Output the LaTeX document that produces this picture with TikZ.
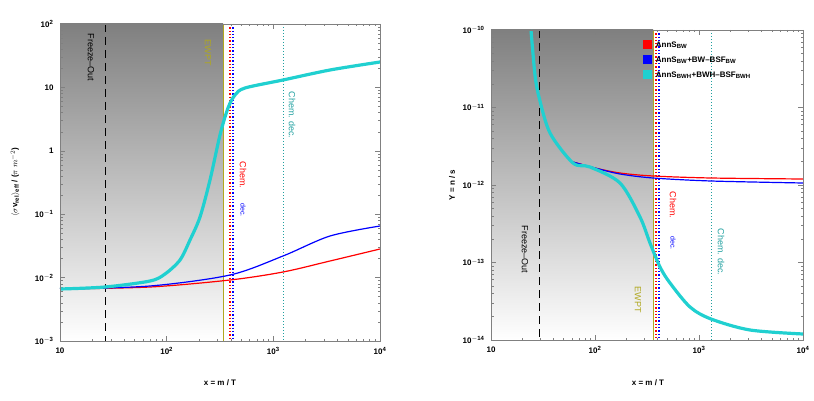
\documentclass[tikz,border=0pt]{standalone}
\usepackage{fontspec}
\setmainfont{Liberation Sans}
\usetikzlibrary{positioning}
\definecolor{shade}{HTML}{F5F4E2}
\definecolor{ewpt}{HTML}{B0A820}
\definecolor{cya}{HTML}{20D0D0}
\definecolor{tealdot}{HTML}{20A0A0}
\definecolor{frm}{HTML}{808080}
\tikzset{
  curve/.style={line width=1.2pt},
  bigcurve/.style={line width=3.2pt,color=cya},
  ticklab/.style={font=\bfseries\footnotesize},
  axlab/.style={font=\bfseries\footnotesize},
  vlab/.style={rotate=-90,font=\small},
  legbox/.style={minimum size=9pt,inner sep=0pt},
}
\begin{document}
\begin{tikzpicture}[x=1pt,y=-1pt]
\useasboundingbox (0,0) rectangle (814,401);
% Drawing left panel
\fill[shade] (60,24) rectangle (223,341);
\draw[ewpt,line width=1pt] (223,24) -- (223,341);
\draw[black,dashed,dash pattern=on 8pt off 5pt,line width=1pt] (105,24) -- (105,341);
\draw[red,dotted,line width=1.3pt] (230,24) -- (230,341);
\draw[blue,dotted,line width=1.3pt] (233,24) -- (233,341);
\draw[tealdot,dotted,line width=1pt] (283,24) -- (283,341);
% ticks
\foreach \d in {0,1,2,3} {
  \draw[frm] (60+\d*106.67,341) -- ++(0,-5);
  \draw[frm] (60+\d*106.67,24) -- ++(0,5);
}
\foreach \d in {0,1,2} \foreach \k in {2,...,9} {
  \pgfmathsetmacro\xx{60+(\d+log10(\k))*106.67}
  \draw[frm] (\xx,341) -- ++(0,-2.5);
  \draw[frm] (\xx,24) -- ++(0,2.5);
}
\foreach \d in {0,...,5} {
  \draw[frm] (60,24+\d*63.4) -- ++(5,0);
  \draw[frm] (380,24+\d*63.4) -- ++(-5,0);
}
\foreach \d in {0,...,4} \foreach \k in {2,...,9} {
  \pgfmathsetmacro\yy{24+(\d+1-log10(\k))*63.4}
  \draw[frm] (60,\yy) -- ++(2.5,0);
  \draw[frm] (380,\yy) -- ++(-2.5,0);
}
% curves
\draw[curve,red] plot[smooth] coordinates {(60,289) (150,287) (230,280) (283,272) (330,261) (380,249)};
\draw[curve,blue] plot[smooth] coordinates {(60,289) (150,286) (230,275) (283,256) (330,236) (380,226)};
\draw[bigcurve] plot[smooth] coordinates {(60,289) (105,287) (150,281) (165,274) (180,260) (190,240) (200,217) (210,180) (220,135) (228,108) (235,95) (245,88) (283,80) (330,70) (380,62)};
\draw[frm] (60,24) rectangle (380,341);
% labels
\node[vlab,anchor=west] (fo1) at (91,30) {Freeze–Out};
\node[vlab,anchor=west,ewpt] (ew1) at (208,36) {EWPT};
\node[vlab,anchor=west,red] (ch1) at (243,158) {Chem.};
\node[vlab,anchor=west,blue,font=\scriptsize] (dc1) at (243,200) {dec.};
\node[vlab,anchor=west,tealdot] (ch2) at (292,88) {Chem. dec.};
\node[ticklab,anchor=east] at (57,24) {10$^{\mathbf{2}}$};
\node[ticklab,anchor=east] at (57,87.4) {10};
\node[ticklab,anchor=east] at (57,150.8) {1};
\node[ticklab,anchor=east] at (57,214.2) {10$^{\mathbf{-1}}$};
\node[ticklab,anchor=east] at (57,277.6) {10$^{\mathbf{-2}}$};
\node[ticklab,anchor=east] at (57,341) {10$^{\mathbf{-3}}$};
\node[ticklab,anchor=north] at (60,344) {10};
\node[ticklab,anchor=north] at (166.7,344) {10$^{\mathbf{2}}$};
\node[ticklab,anchor=north] at (273.3,344) {10$^{\mathbf{3}}$};
\node[ticklab,anchor=north] at (380,344) {10$^{\mathbf{4}}$};
\node[axlab] (xl1) at (220,383) {x = m / T};
\node[axlab,rotate=90] (yl1) at (15,182) {$\langle\sigma$v\textsubscript{rel}$\rangle$\textsubscript{eff} / ($\pi$ $m^{-2}$)};
% Drawing right panel
\fill[shade] (491,30) rectangle (653,340);
\draw[ewpt,line width=1pt] (653,30) -- (653,340);
\draw[black,dashed,dash pattern=on 8pt off 5pt,line width=1pt] (539,30) -- (539,340);
\draw[red,dotted,line width=1.3pt] (656,30) -- (656,340);
\draw[blue,dotted,line width=1.3pt] (659,30) -- (659,340);
\draw[tealdot,dotted,line width=1pt] (711,30) -- (711,340);
\foreach \d in {0,1,2,3} {
  \draw[frm] (491+\d*104,340) -- ++(0,-5);
  \draw[frm] (491+\d*104,30) -- ++(0,5);
}
\foreach \d in {0,1,2} \foreach \k in {2,...,9} {
  \pgfmathsetmacro\xx{491+(\d+log10(\k))*104}
  \draw[frm] (\xx,340) -- ++(0,-2.5);
  \draw[frm] (\xx,30) -- ++(0,2.5);
}
\foreach \d in {0,...,4} {
  \draw[frm] (491,30+\d*77.5) -- ++(5,0);
  \draw[frm] (803,30+\d*77.5) -- ++(-5,0);
}
\foreach \d in {0,...,3} \foreach \k in {2,...,9} {
  \pgfmathsetmacro\yy{30+(\d+1-log10(\k))*77.5}
  \draw[frm] (491,\yy) -- ++(2.5,0);
  \draw[frm] (803,\yy) -- ++(-2.5,0);
}
\draw[curve,red] plot[smooth] coordinates {(573,162) (595,168) (620,173) (653,176) (711,178) (803,179)};
\draw[curve,blue] plot[smooth] coordinates {(573,162) (595,168) (620,174) (653,178) (711,181) (803,183)};
\draw[bigcurve] plot[smooth] coordinates {(531,30) (535,75) (539,97) (550,133) (573,163) (590,167) (620,183) (640,217) (650,243) (660,267) (670,283) (690,307) (711,319) (750,330) (803,334)};
\draw[frm] (491,30) rectangle (803,340);
\node[vlab,anchor=west] (fo2) at (525,222) {Freeze–Out};
\node[vlab,anchor=west,ewpt] (ew2) at (638,283) {EWPT};
\node[vlab,anchor=west,red] (ch3) at (673,188) {Chem.};
\node[vlab,anchor=west,blue,font=\scriptsize] (dc2) at (673,233) {dec.};
\node[vlab,anchor=west,tealdot] (ch4) at (721,225) {Chem. dec.};
\foreach \d/\e in {0/-10,1/-11,2/-12,3/-13,4/-14}
  \node[ticklab,anchor=east] at (488,30+\d*77.5) {10$^{\mathbf{\e}}$};
\node[ticklab,anchor=north] at (491,343) {10};
\node[ticklab,anchor=north] at (595,343) {10$^{\mathbf{2}}$};
\node[ticklab,anchor=north] at (699,343) {10$^{\mathbf{3}}$};
\node[ticklab,anchor=north] at (803,343) {10$^{\mathbf{4}}$};
\node[axlab] (xl2) at (648,383) {x = m / T};
\node[axlab,rotate=90] (yl2) at (452,185) {Y = n / s};
% legend
\node[legbox,fill=red] (lr) at (647,45) {};
\node[legbox,fill=blue] (lb) at (647,60) {};
\node[legbox,fill=cya] (lc) at (647,75) {};
\node[axlab,anchor=west,inner sep=1pt] at ([xshift=3pt]lr.east) {AnnS\textsubscript{BW}};
\node[axlab,anchor=west,inner sep=1pt] at ([xshift=3pt]lb.east) {AnnS\textsubscript{BW}+BW–BSF\textsubscript{BW}};
\node[axlab,anchor=west,inner sep=1pt] at ([xshift=3pt]lc.east) {AnnS\textsubscript{BWH}+BWH–BSF\textsubscript{BWH}};
\end{tikzpicture}
\end{document}
